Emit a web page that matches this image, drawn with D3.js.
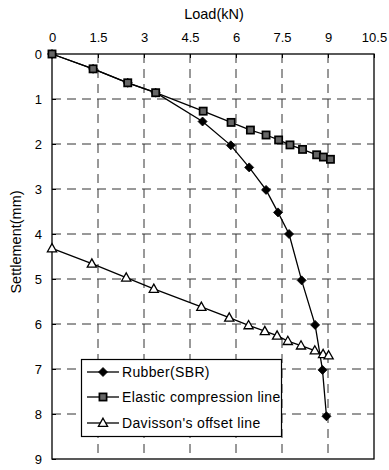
<!DOCTYPE html>
<html>
<head>
<meta charset="utf-8">
<script src="https://cdn.jsdelivr.net/npm/d3@7"></script>
<style>
  html, body { margin: 0; padding: 0; background: #fff; }
  svg { display: block; font-family: "Liberation Sans", Arial, sans-serif; }
</style>
</head>
<body>
<svg id="chart" width="389" height="470"></svg>
<script>
// Load–settlement data (load in kN, settlement in mm)
const loadTicks = [0, 1.5, 3, 4.5, 6, 7.5, 9, 10.5];
const loadTickLabels = ["0", "1.5", "3", "4.5", "6", "7.5", "9", "10.5"];
const settleTicks = [0, 1, 2, 3, 4, 5, 6, 7, 8, 9];

const rubberLoad   = [0, 1.34, 2.47, 3.38, 4.91, 5.83, 6.43, 6.98, 7.37, 7.73, 8.14, 8.58, 8.82, 8.95];
const rubberSettle = [0, 0.33, 0.64, 0.86, 1.50, 2.03, 2.52, 3.02, 3.52, 4.00, 5.03, 6.02, 7.02, 8.05];

const elasticLoad   = [0, 1.34, 2.47, 3.38, 4.93, 5.84, 6.47, 6.98, 7.39, 7.76, 8.17, 8.63, 8.85, 9.08];
const elasticSettle = [0, 0.33, 0.64, 0.86, 1.27, 1.52, 1.69, 1.80, 1.91, 2.02, 2.12, 2.24, 2.29, 2.34];

const davLoad   = [0, 1.30, 2.42, 3.32, 4.87, 5.78, 6.41, 6.94, 7.34, 7.69, 8.12, 8.57, 8.84, 9.02];
const davSettle = [4.32, 4.66, 4.97, 5.22, 5.62, 5.86, 6.03, 6.16, 6.26, 6.38, 6.48, 6.59, 6.67, 6.70];

const seriesNames = ["Rubber(SBR)", "Elastic compression line", "Davisson's offset line"];

const svg = d3.select("#chart");
const plotL = 52, plotR = 374, plotT = 54, plotB = 459;

const x = d3.scaleLinear().domain([0, 10.5]).range([plotL, plotR]);
const y = d3.scaleLinear().domain([0, 9]).range([plotT, plotB]);

// dashed grid
const grid = svg.append("g").attr("stroke", "#333").attr("stroke-width", 1).attr("stroke-dasharray", "9,6");
grid.selectAll("line.v").data(loadTicks.slice(1, -1)).join("line").attr("class", "v")
  .attr("x1", d => x(d)).attr("x2", d => x(d)).attr("y1", plotT).attr("y2", plotB);
grid.selectAll("line.h").data(settleTicks.slice(1, -1)).join("line").attr("class", "h")
  .attr("x1", plotL).attr("x2", plotR).attr("y1", d => y(d)).attr("y2", d => y(d));

// axes (top and left), inward ticks
const topAxis = d3.axisTop(x).tickValues(loadTicks).tickFormat((d, i) => loadTickLabels[i])
  .tickSizeInner(-4).tickSizeOuter(0).tickPadding(12);
const gTop = svg.append("g").attr("transform", `translate(0,${plotT})`).call(topAxis);
const leftAxis = d3.axisLeft(y).tickValues(settleTicks).tickFormat(d3.format("d"))
  .tickSizeInner(-4).tickSizeOuter(0).tickPadding(10);
const gLeft = svg.append("g").attr("transform", `translate(${plotL},0)`).call(leftAxis);
[gTop, gLeft].forEach(g => {
  g.select(".domain").remove();
  g.selectAll("line").attr("stroke", "#000");
  g.selectAll("text").attr("font-size", 13).attr("fill", "#000")
    .attr("font-family", "'Liberation Sans', Arial, sans-serif");
});

// plot frame
svg.append("rect").attr("x", plotL).attr("y", plotT)
  .attr("width", plotR - plotL).attr("height", plotB - plotT)
  .attr("fill", "none").attr("stroke", "#000").attr("stroke-width", 1.3);

// axis titles
svg.append("text").attr("x", 214).attr("y", 19).attr("text-anchor", "middle")
  .attr("font-size", 14.5).text("Load(kN)");
svg.append("text").attr("transform", "translate(21,242) rotate(-90)")
  .attr("text-anchor", "middle").attr("font-size", 14.5).text("Settlement(mm)");

// series
const line = d3.line().x(d => x(d[0])).y(d => y(d[1]));
const zip = (a, b) => a.map((v, i) => [v, b[i]]);
const series = [
  { name: seriesNames[0], pts: zip(rubberLoad, rubberSettle), marker: "diamond" },
  { name: seriesNames[1], pts: zip(elasticLoad, elasticSettle), marker: "square" },
  { name: seriesNames[2], pts: zip(davLoad, davSettle), marker: "triangle" }
];

function drawMarker(g, type, cx, cy) {
  if (type === "diamond") {
    g.append("path").attr("d", `M${cx},${cy - 4.5}L${cx + 4.5},${cy}L${cx},${cy + 4.5}L${cx - 4.5},${cy}Z`)
      .attr("fill", "#000").attr("stroke", "#000").attr("stroke-width", 0.8);
  } else if (type === "square") {
    g.append("rect").attr("x", cx - 3.6).attr("y", cy - 3.6).attr("width", 7.2).attr("height", 7.2)
      .attr("fill", "#666").attr("stroke", "#000").attr("stroke-width", 1.7);
  } else {
    g.append("path").attr("d", `M${cx},${cy - 4.8}L${cx + 4.6},${cy + 3.4}L${cx - 4.6},${cy + 3.4}Z`)
      .attr("fill", "#fff").attr("stroke", "#000").attr("stroke-width", 1.3);
  }
}

series.forEach(s => {
  svg.append("path").datum(s.pts).attr("d", line)
    .attr("fill", "none").attr("stroke", "#000").attr("stroke-width", 1.3);
});
series.forEach(s => {
  const g = svg.append("g");
  s.pts.forEach(p => drawMarker(g, s.marker, x(p[0]), y(p[1])));
});

// legend
const lg = svg.append("g");
lg.append("rect").attr("x", 81.5).attr("y", 359.5).attr("width", 200).attr("height", 77)
  .attr("fill", "#fff").attr("stroke", "#000").attr("stroke-width", 1.2);
const rowY = [372, 397, 423];
series.forEach((s, i) => {
  lg.append("line").attr("x1", 87).attr("x2", 119).attr("y1", rowY[i]).attr("y2", rowY[i])
    .attr("stroke", "#000").attr("stroke-width", 1.3);
  drawMarker(lg, s.marker, 103, rowY[i]);
  lg.append("text").attr("x", 122).attr("y", rowY[i] + 5).attr("font-size", 14)
    .attr("letter-spacing", 0.35).text(s.name);
});
</script>
</body>
</html>
